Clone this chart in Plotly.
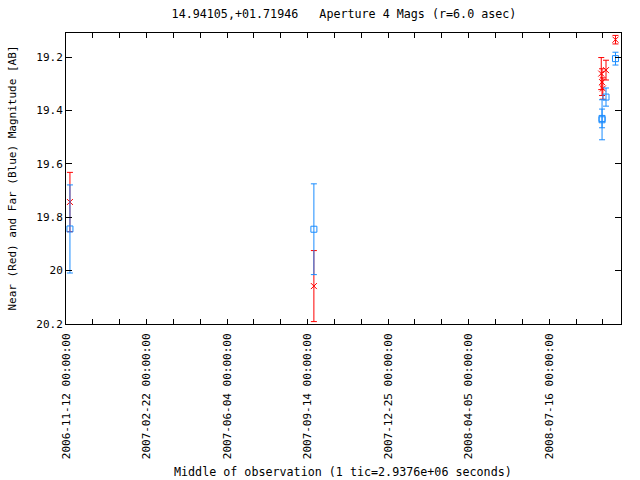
import plotly.graph_objects as go

# ---- data ----
red_dates = ["2006-11-17", "2007-09-22", "2008-09-20", "2008-09-21", "2008-09-22", "2008-09-26", "2008-10-08"]
red_mags = [19.743, 20.058, 19.262, 19.294, 19.318, 19.249, 19.135]
red_errs = [0.111, 0.133, 0.060, 0.050, 0.040, 0.037, 0.016]

blue_dates = ["2006-11-17", "2007-09-22", "2008-09-21", "2008-09-21", "2008-09-26", "2008-10-08"]
blue_mags = [19.844, 19.845, 19.435, 19.430, 19.350, 19.206]
blue_errs = [0.165, 0.170, 0.075, 0.035, 0.034, 0.024]

tick_labels = ["2006-11-12 00:00:00", "2007-02-22 00:00:00", "2007-06-04 00:00:00",
               "2007-09-14 00:00:00", "2007-12-25 00:00:00", "2008-04-05 00:00:00",
               "2008-07-16 00:00:00"]
y_ticks = [19.2, 19.4, 19.6, 19.8, 20.0, 20.2]

x_range = ["2006-11-12", "2008-10-15"]
y_range = [20.2, 19.11]

title_text = "14.94105,+01.71946   Aperture 4 Mags (r=6.0 asec)"
x_title = "Middle of observation (1 tic=2.9376e+06 seconds)"
y_title = "Near (Red) and Far (Blue) Magnitude [AB]"

RED = "#ff0000"
BLUE = "#1a8cff"
FONT = "DejaVu Sans Mono"

W, H = 640, 480
L, R, T, B = 66, 19, 33, 156
plot_h = H - T - B
plot_w = W - L - R

fig = go.Figure()
fig.add_trace(go.Scatter(
    x=red_dates, y=red_mags, mode="markers",
    marker=dict(symbol="x-thin-open", size=6, color=RED, line=dict(color=RED, width=1)),
    error_y=dict(type="data", array=red_errs, visible=True, color=RED, thickness=1, width=3),
    showlegend=False,
))
fig.add_trace(go.Scatter(
    x=blue_dates, y=blue_mags, mode="markers",
    marker=dict(symbol="square-open", size=6, color=BLUE, line=dict(color=BLUE, width=1)),
    error_y=dict(type="data", array=blue_errs, visible=True, color=BLUE, thickness=1, width=3),
    showlegend=False,
))

fig.update_layout(
    width=W, height=H,
    paper_bgcolor="white", plot_bgcolor="white",
    margin=dict(l=L, r=R, t=T, b=B, autoexpand=False),
    font=dict(family=FONT, size=11, color="black"),
    title=dict(text=title_text, x=344 / W, xanchor="center",
               y=1 - 14 / H, yanchor="middle", font=dict(family=FONT, size=11.7)),
    xaxis=dict(
        type="date", range=x_range, showgrid=False, zeroline=False,
        showline=True, linecolor="black", linewidth=1, mirror="allticks",
        ticks="inside", ticklen=5, tickcolor="black", tickwidth=1,
        tickvals=[t[:10] for t in tick_labels], ticktext=tick_labels,
        tickangle=-90, tickfont=dict(family=FONT, size=11), ticklabelstandoff=4,
        minor=dict(ticks="inside", ticklen=5, tickcolor="black", tick0="2006-11-12",
                   dtick=2937600000, showgrid=False),
        automargin=False,
    ),
    yaxis=dict(
        range=y_range, showgrid=False, zeroline=False,
        showline=True, linecolor="black", linewidth=1, mirror="allticks",
        ticks="inside", ticklen=6, tickcolor="black", tickwidth=1,
        tickvals=y_ticks, ticktext=[("%g" % v) for v in y_ticks],
        tickfont=dict(family=FONT, size=11),
        automargin=False,
    ),
    annotations=[
        dict(text=x_title, xref="paper", yref="paper", x=(343 - L) / plot_w,
             y=-(472 - (H - B)) / plot_h, xanchor="center", yanchor="middle",
             showarrow=False, font=dict(family=FONT, size=11.7)),
        dict(text=y_title, xref="paper", yref="paper", x=(12 - L) / plot_w,
             y=0.5, xanchor="center", yanchor="middle", textangle=-90,
             showarrow=False, font=dict(family=FONT, size=11)),
    ],
)

fig.write_html("out.html", config={"displayModeBar": False},
               post_script="document.body.style.margin='0px';")
